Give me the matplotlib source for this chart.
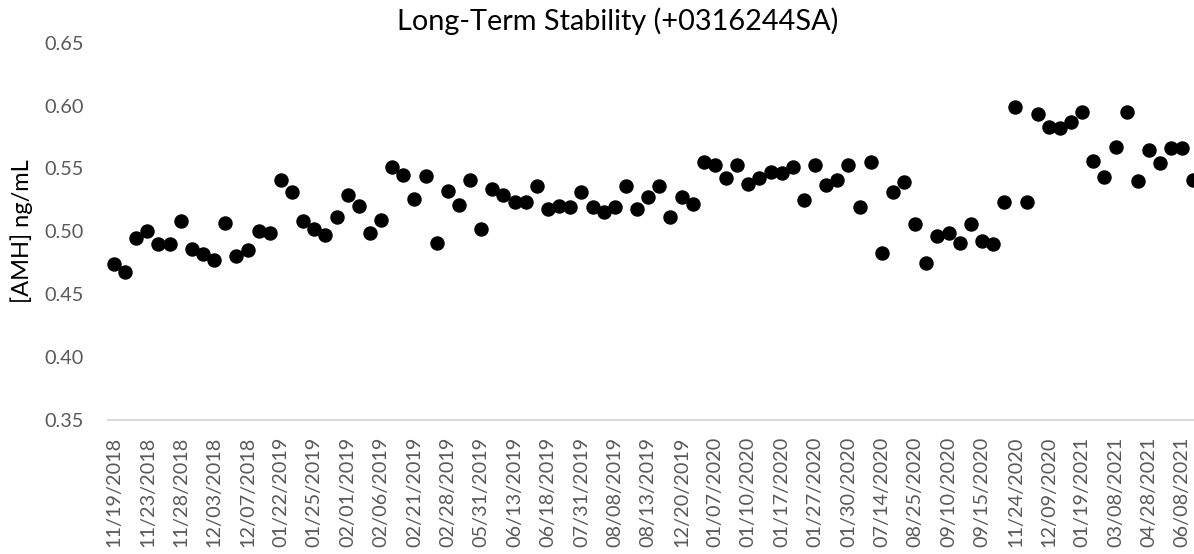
import numpy as np
import matplotlib
matplotlib.use('Agg')
import matplotlib.pyplot as plt

# AMH readings, one per run (98 runs)
amh = [0.474, 0.468, 0.495, 0.500, 0.490, 0.490, 0.508, 0.486, 0.482, 0.477,
       0.507, 0.480, 0.485, 0.500, 0.499, 0.541, 0.531, 0.508, 0.502, 0.497,
       0.511, 0.529, 0.520, 0.499, 0.509, 0.551, 0.545, 0.526, 0.544, 0.491,
       0.532, 0.521, 0.541, 0.502, 0.534, 0.529, 0.523, 0.523, 0.536, 0.518,
       0.520, 0.519, 0.531, 0.519, 0.515, 0.519, 0.536, 0.518, 0.527, 0.536,
       0.511, 0.527, 0.522, 0.555, 0.553, 0.542, 0.553, 0.538, 0.542, 0.547,
       0.546, 0.551, 0.525, 0.553, 0.537, 0.541, 0.553, 0.519, 0.555, 0.483,
       0.531, 0.539, 0.506, 0.475, 0.496, 0.499, 0.491, 0.506, 0.492, 0.490,
       0.523, 0.599, 0.523, 0.593, 0.583, 0.582, 0.587, 0.595, 0.556, 0.543,
       0.567, 0.595, 0.540, 0.565, 0.554, 0.566, 0.566, 0.541]

# dates shown on the axis (every third run)
tick_labels = ['11/19/2018', '11/23/2018', '11/28/2018', '12/03/2018', '12/07/2018',
               '01/22/2019', '01/25/2019', '02/01/2019', '02/06/2019', '02/21/2019',
               '02/28/2019', '05/31/2019', '06/13/2019', '06/18/2019', '07/31/2019',
               '08/08/2019', '08/13/2019', '12/20/2019', '01/07/2020', '01/10/2020',
               '01/17/2020', '01/27/2020', '01/30/2020', '07/14/2020', '08/25/2020',
               '09/10/2020', '09/15/2020', '11/24/2020', '12/09/2020', '01/19/2021',
               '03/08/2021', '04/28/2021', '06/08/2021']
label_step = 3

plt.rcParams['font.family'] = ['Lato', 'DejaVu Sans']

fig = plt.figure(figsize=(11.94, 5.54), dpi=100)
ax = fig.add_axes([0.0908, 0.2419, 0.9134, 0.6811])

x = np.arange(len(amh))
ax.plot(x, amh, 'o', color='black', markersize=9.4, clip_on=False)

ax.set_xlim(-0.5, len(amh) - 0.5)
ax.set_ylim(0.35, 0.65)
ax.set_yticks(np.arange(0.35, 0.651, 0.05))
ax.set_yticklabels(['%.2f' % v for v in np.arange(0.35, 0.651, 0.05)])
ax.set_xticks(x[::label_step])
ax.set_xticklabels(tick_labels, rotation=90)

for s in ['top', 'right', 'left']:
    ax.spines[s].set_visible(False)
ax.spines['bottom'].set_color('#d9d9d9')
ax.spines['bottom'].set_linewidth(1.5)
ax.tick_params(axis='both', length=0, labelsize=14.3, colors='#595959')
ax.tick_params(axis='x', pad=12)
ax.tick_params(axis='y', pad=18)

ax.set_ylabel('[AMH] ng/mL', fontsize=17, color='black', labelpad=8)
fig.text(0.517, 0.962, 'Long-Term Stability (+0316244SA)', fontsize=20.8,
         ha='center', va='center', color='black')

fig.savefig('out.png', dpi=100)
